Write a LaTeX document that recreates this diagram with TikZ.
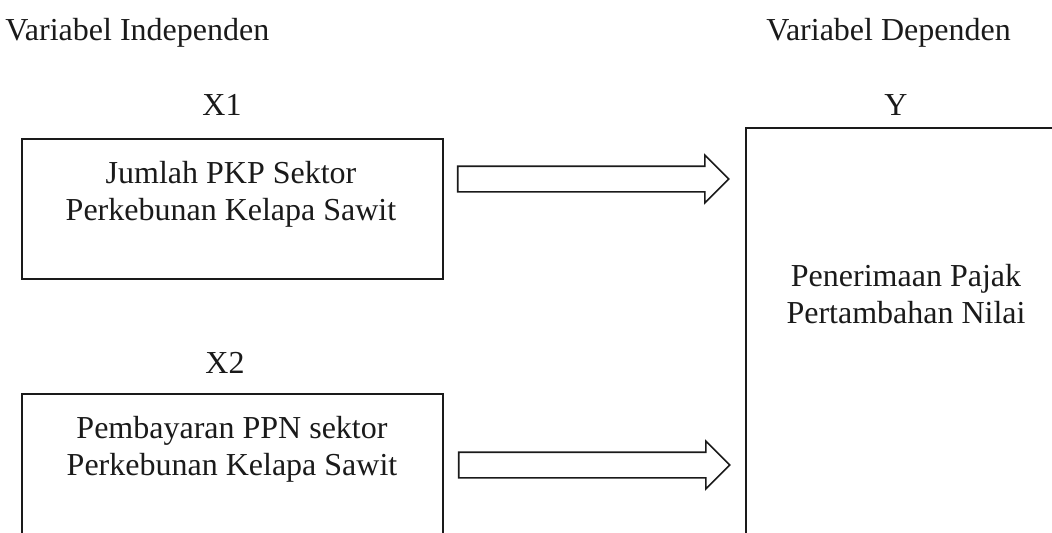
\documentclass[tikz,border=0pt]{standalone}
\usepackage{fontspec}
\setmainfont{Liberation Serif}
\usepackage{tikz}
\usetikzlibrary{positioning,shapes.arrows,calc}
\definecolor{InkBlack}{HTML}{1A1A1A}
\tikzset{
  varbox/.style={draw=InkBlack,line width=0.9pt,minimum width=210.5pt,minimum height=70pt,inner sep=0pt},
  depbox/.style={draw=InkBlack,line width=0.9pt,minimum width=160pt,minimum height=206pt,inner sep=0pt},
  vartext/.style={align=center,inner sep=0pt,text=InkBlack,font=\fontsize{16}{18.5}\selectfont},
  varlabel/.style={inner sep=0pt,text=InkBlack,font=\fontsize{16}{18.5}\selectfont},
  blockarrow/.style={draw=InkBlack,line width=0.8pt,single arrow,single arrow head extend=5.5pt,minimum height=135.5pt,inner xsep=0pt,inner ysep=6pt}
}

\begin{document}
\begin{tikzpicture}[x=0.5pt,y=-0.5pt]
\useasboundingbox (0,0) rectangle (1052,532);
\clip (0,0) rectangle (1052,532);
% kotak variabel
\node[varbox] (boxA) at (232.5,209) {};
\node[varbox] (boxB) at (232.5,464) {};
\node[depbox] (boxY) at (906,334) {};
% judul
\node[varlabel,anchor=base west] (indep) at (5,40) {Variabel Independen};
\node[varlabel,anchor=base west] (dep) at (766,40) {Variabel Dependen};
\node[varlabel,anchor=base] (labA) at (222,115) {X1};
\node[varlabel,anchor=base] (labB) at (225,373) {X2};
\node[varlabel,anchor=base] (labY) at (896,115) {Y};
% isi kotak
\node[vartext,anchor=north] (txtA) at (231,161) {Jumlah PKP Sektor\\Perkebunan Kelapa Sawit};
\node[vartext,anchor=north] (txtB) at (232,416) {Pembayaran PPN sektor\\Perkebunan Kelapa Sawit};
\node[vartext,anchor=north] (txtY) at (906,264) {Penerimaan Pajak\\Pertambahan Nilai};
% panah
\node[blockarrow,anchor=tail] (arrA) at ($(boxA.east)+(13,-30)$) {};
\node[blockarrow,anchor=tail] (arrB) at ($(boxB.east)+(14,1)$) {};
\end{tikzpicture}
\end{document}
